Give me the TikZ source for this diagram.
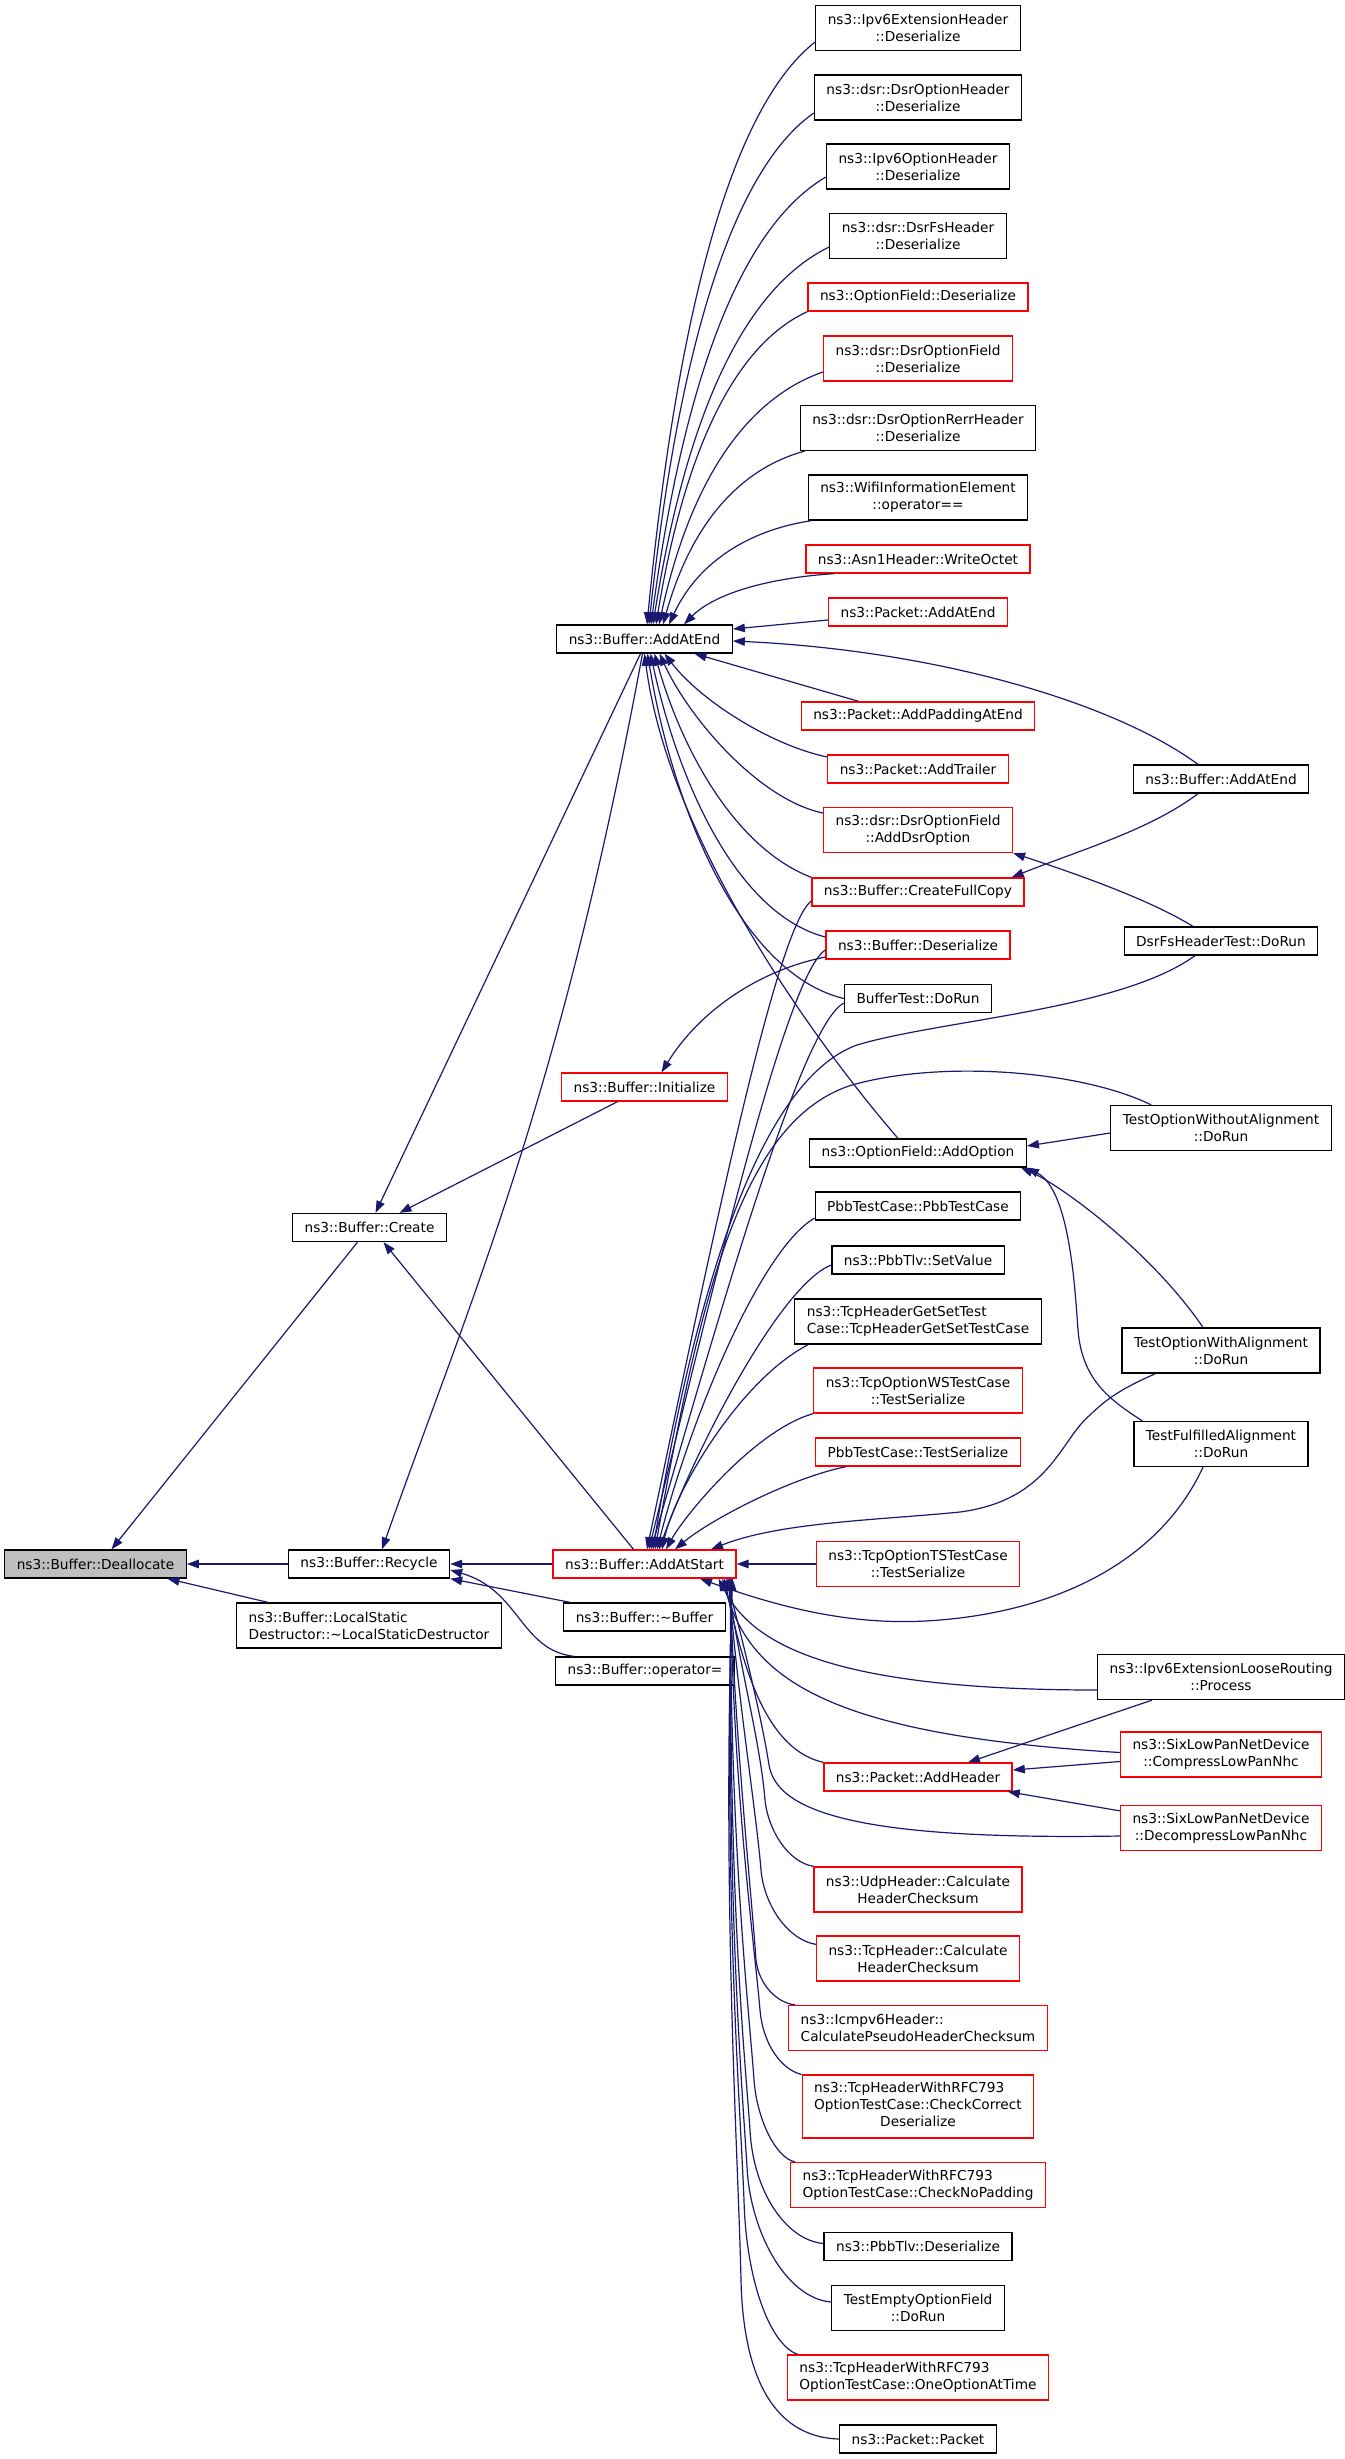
\documentclass[tikz,border=0pt]{standalone}
\usepackage{fontspec}
\setmainfont{DejaVu Sans}
\usetikzlibrary{arrows.meta}
\definecolor{edgeblue}{HTML}{191970}
\definecolor{nodegray}{HTML}{BFBFBF}

\begin{document}
\begin{tikzpicture}[x=1pt,y=-1pt,
		func/.style={draw=black,line width=1.3pt,fill=white,inner xsep=12pt,inner ysep=0pt,minimum height=28pt,align=center,font=\fontsize{13.7}{17}\selectfont},
		redfunc/.style={func,draw=red},
		tall/.style={minimum height=45pt},
		taller/.style={minimum height=63pt},
		call/.style={draw=edgeblue,line width=1.2pt,{Triangle[length=12pt,width=8.5pt]}-}]
	\useasboundingbox (0,0) rectangle (1344,2459);

	% left part
	\node[func,fill=nodegray] (dealloc) at (95.5,1564) {ns3::Buffer::Deallocate};
	\node[func] (create) at (369.5,1227.5) {ns3::Buffer::Create};
	\node[func] (recycle) at (369,1564) {ns3::Buffer::Recycle};
	\node[func,tall,align=left] (localstatic) at (369,1625.5) {ns3::Buffer::LocalStatic\\Destructor::\textasciitilde LocalStaticDestructor};
	\node[func] (addatendL) at (644.5,639) {ns3::Buffer::AddAtEnd};
	\node[redfunc] (initialize) at (644.5,1087) {ns3::Buffer::Initialize};
	\node[redfunc] (addatstart) at (644.5,1564) {ns3::Buffer::AddAtStart};
	\node[func] (dtor) at (644.5,1617) {ns3::Buffer::\textasciitilde Buffer};
	\node[func] (assign) at (645,1671) {ns3::Buffer::operator=};

	% callers, middle column
	\node[func,tall] (ipv6exthdr) at (918,28) {ns3::Ipv6ExtensionHeader\\::Deserialize};
	\node[func,tall] (dsropthdr) at (918,97.5) {ns3::dsr::DsrOptionHeader\\::Deserialize};
	\node[func,tall] (ipv6opthdr) at (918,166.5) {ns3::Ipv6OptionHeader\\::Deserialize};
	\node[func,tall] (dsrfshdr) at (918,236) {ns3::dsr::DsrFsHeader\\::Deserialize};
	\node[redfunc] (optfielddes) at (918,297) {ns3::OptionField::Deserialize};
	\node[redfunc,tall] (dsroptfielddes) at (918,358.5) {ns3::dsr::DsrOptionField\\::Deserialize};
	\node[func,tall] (dsrrerr) at (918,428) {ns3::dsr::DsrOptionRerrHeader\\::Deserialize};
	\node[func,tall] (wifiie) at (918,497.5) {ns3::WifiInformationElement\\::operator==};
	\node[redfunc] (asn1) at (918,559) {ns3::Asn1Header::WriteOctet};
	\node[redfunc] (pktaddatend) at (918,612) {ns3::Packet::AddAtEnd};
	\node[redfunc] (pktpadding) at (918,716) {ns3::Packet::AddPaddingAtEnd};
	\node[redfunc] (pkttrailer) at (918,769) {ns3::Packet::AddTrailer};
	\node[redfunc,tall] (adddsropt) at (918,830) {ns3::dsr::DsrOptionField\\::AddDsrOption};
	\node[redfunc] (fullcopy) at (918,892) {ns3::Buffer::CreateFullCopy};
	\node[redfunc] (bufdes) at (918,945) {ns3::Buffer::Deserialize};
	\node[func] (buftest) at (918,998.5) {BufferTest::DoRun};
	\node[func] (addoption) at (918,1153) {ns3::OptionField::AddOption};
	\node[func] (pbbctor) at (918,1206) {PbbTestCase::PbbTestCase};
	\node[func] (setvalue) at (918,1260) {ns3::PbbTlv::SetValue};
	\node[func,tall,align=left] (tcpgetset) at (918,1321.5) {ns3::TcpHeaderGetSetTest\\Case::TcpHeaderGetSetTestCase};
	\node[redfunc,tall] (tcpws) at (918,1390.5) {ns3::TcpOptionWSTestCase\\::TestSerialize};
	\node[redfunc] (pbbser) at (918,1452) {PbbTestCase::TestSerialize};
	\node[redfunc,tall] (tcpts) at (918,1564) {ns3::TcpOptionTSTestCase\\::TestSerialize};
	\node[redfunc] (addheader) at (918,1777) {ns3::Packet::AddHeader};
	\node[redfunc,tall] (udpcs) at (918,1889.5) {ns3::UdpHeader::Calculate\\HeaderChecksum};
	\node[redfunc,tall] (tcpcs) at (918,1958.5) {ns3::TcpHeader::Calculate\\HeaderChecksum};
	\node[redfunc,tall,align=left] (icmpcs) at (918,2028) {ns3::Icmpv6Header::\\CalculatePseudoHeaderChecksum};
	\node[redfunc,taller] (checkcorrect) at (918,2106.5) {\begin{tabular}{@{}l@{}}ns3::TcpHeaderWithRFC793\\OptionTestCase::CheckCorrect\\\multicolumn{1}{@{}c@{}}{Deserialize}\end{tabular}};
	\node[redfunc,tall,align=left] (checknopad) at (918,2185) {ns3::TcpHeaderWithRFC793\\OptionTestCase::CheckNoPadding};
	\node[func] (pbbtlvdes) at (918,2246.5) {ns3::PbbTlv::Deserialize};
	\node[func,tall] (testempty) at (918,2308) {TestEmptyOptionField\\::DoRun};
	\node[redfunc,tall,align=left] (oneoption) at (918,2377.5) {ns3::TcpHeaderWithRFC793\\OptionTestCase::OneOptionAtTime};
	\node[func] (pktctor) at (918,2439) {ns3::Packet::Packet};

	% callers, right column
	\node[func] (addatendR) at (1221,779) {ns3::Buffer::AddAtEnd};
	\node[func] (dsrfstest) at (1221,941) {DsrFsHeaderTest::DoRun};
	\node[func,tall] (towa) at (1221,1128) {TestOptionWithoutAlignment\\::DoRun};
	\node[func,tall] (twa) at (1221,1350.5) {TestOptionWithAlignment\\::DoRun};
	\node[func,tall] (tfa) at (1221,1444) {TestFulfilledAlignment\\::DoRun};
	\node[func,tall] (looserouting) at (1221,1677) {ns3::Ipv6ExtensionLooseRouting\\::Process};
	\node[redfunc,tall] (compress) at (1221,1754.5) {ns3::SixLowPanNetDevice\\::CompressLowPanNhc};
	\node[redfunc,tall] (decompress) at (1221,1828) {ns3::SixLowPanNetDevice\\::DecompressLowPanNhc};

	% Deallocate, Create, Recycle, Initialize
	\draw[call] ([xshift=16pt]dealloc.north) -- ([xshift=-12pt]create.south);
	\draw[call] (dealloc.east) -- (recycle.west);
	\draw[call] ([xshift=72pt]dealloc.south) -- ([xshift=-101pt]localstatic.north);
	\draw[call] ([xshift=6pt]create.north) -- ([xshift=-4pt]addatendL.south);
	\draw[call] ([xshift=30pt]create.north) -- ([xshift=-27pt]initialize.south);
	\draw[call] ([xshift=14pt]create.south) -- ([xshift=-11pt]addatstart.north);
	\draw[call] ([xshift=13pt]recycle.north) .. controls (470,1300) and (560,1100) .. ([xshift=-2pt]addatendL.south);
	\draw[call] (recycle.east) -- (addatstart.west);
	\draw[call] (recycle.south east) -- ([xshift=7pt]dtor.north west);
	\draw[call] ([yshift=-6pt]recycle.east) .. controls (520,1590) and (520,1650) .. ([xshift=19pt]assign.north west);
	\draw[call] ([xshift=17pt]initialize.north) .. controls (700,1010) and (760,970) .. ([yshift=-12pt]bufdes.west);

	% AddAtEnd
	\draw[call] ([xshift=2.5pt]addatendL.north) .. controls (681,275) and (741,100) .. ([yshift=-14pt]ipv6exthdr.west);
	\draw[call] ([xshift=4.5pt]addatendL.north) .. controls (682,318) and (741,164) .. ([yshift=-15.5pt]dsropthdr.west);
	\draw[call] ([xshift=6.5pt]addatendL.north) .. controls (687,356) and (749,222) .. ([yshift=-10.5pt]ipv6opthdr.west);
	\draw[call] ([xshift=8.5pt]addatendL.north) .. controls (689,398) and (751,285) .. ([yshift=-11pt]dsrfshdr.west);
	\draw[call] ([xshift=11.5pt]addatendL.north) .. controls (687,436) and (741,342) .. (optfielddes.south west);
	\draw[call] ([xshift=14.5pt]addatendL.north) .. controls (692,473) and (751,397) .. ([yshift=-13.5pt]dsroptfielddes.west);
	\draw[call] ([xshift=18.5pt]addatendL.north) .. controls (692,521) and (742,468) .. ([xshift=5pt]dsrrerr.south west);
	\draw[call] ([xshift=24.5pt]addatendL.north) .. controls (698,562) and (749,530) .. ([xshift=4pt]wifiie.south west);
	\draw[call] ([xshift=39.5pt]addatendL.north) .. controls (714,594) and (767,578) .. ([xshift=29pt]asn1.south west);
	\draw[call] ([yshift=10pt]addatendL.east) -- ([yshift=-8pt]pktaddatend.west);
	\draw[call] ([yshift=-2pt]addatendL.east) .. controls (930,650) and (1110,700) .. ([xshift=-23pt]addatendR.north);
	\draw[call] ([xshift=50pt]addatendL.south) -- ([xshift=58pt]pktpadding.north west);
	\draw[call] ([xshift=20pt]addatendL.south) .. controls (700,700) and (770,745) .. ([yshift=12pt]pkttrailer.west);
	\draw[call] ([xshift=15pt]addatendL.south) .. controls (690,720) and (760,800) .. ([yshift=17pt]adddsropt.west);
	\draw[call] ([xshift=10pt]addatendL.south) .. controls (685,760) and (740,850) .. (fullcopy.north west);
	\draw[call] ([xshift=6pt]addatendL.south) .. controls (680,790) and (740,915) .. ([yshift=8pt]bufdes.west);
	\draw[call] ([xshift=3pt]addatendL.south) .. controls (675,820) and (745,975) .. (buftest.west);
	\draw[call] (addatendL.south) .. controls (670,850) and (830,1060) .. ([xshift=-20pt]addoption.north);
	\draw[call] ([xshift=-13pt]fullcopy.north east) .. controls (1080,850) and (1150,830) .. ([xshift=-23pt]addatendR.south);
	\draw[call] (adddsropt.south east) .. controls (1080,875) and (1150,900) .. ([xshift=-28pt]dsrfstest.north);

	% AddAtStart, from above
	\draw[call] ([xshift=2.5pt]addatstart.north) .. controls (710,1250) and (776,927) .. ([yshift=-9pt]fullcopy.west);
	\draw[call] ([xshift=4.5pt]addatstart.north) .. controls (716,1274) and (787,974) .. ([yshift=-5pt]bufdes.west);
	\draw[call] ([xshift=6.5pt]addatstart.north) .. controls (724,1298) and (802,1025) .. ([yshift=-4.5pt]buftest.west);
	\draw[call] ([xshift=8.5pt]addatstart.north) .. controls (695,1290) and (760,1080) .. (857,1045) .. controls (940,1020) and (1120,1010) .. ([xshift=-26pt]dsrfstest.south);
	\draw[call] ([xshift=10.5pt]addatstart.north) .. controls (700,1300) and (740,1120) .. (852,1085) .. controls (940,1060) and (1080,1070) .. ([xshift=41pt]towa.north west);
	\draw[call] ([xshift=12.5pt]addatstart.north) .. controls (690,1420) and (760,1250) .. ([yshift=-12pt]pbbctor.west);
	\draw[call] ([xshift=14.5pt]addatstart.north) .. controls (695,1450) and (780,1285) .. ([yshift=-5pt]setvalue.west);
	\draw[call] ([xshift=17.5pt]addatstart.north) .. controls (675,1490) and (740,1380) .. ([xshift=14pt]tcpgetset.south west);
	\draw[call] ([xshift=21.5pt]addatstart.north) .. controls (685,1515) and (755,1430) .. (tcpws.south west);
	\draw[call] ([xshift=30.5pt]addatstart.north) .. controls (710,1520) and (790,1478) .. ([xshift=31pt]pbbser.south west);
	\draw[call] ([xshift=66.5pt]addatstart.north) .. controls (780,1522) and (880,1520) .. (960,1512) .. controls (1050,1500) and (1060,1440) .. (1090,1415) .. controls (1110,1395) and (1130,1385) .. ([xshift=34pt]twa.south west);
	\draw[call] (addatstart.east) -- (tcpts.west);

	% AddAtStart, from below
	\draw[call] ([xshift=55.5pt]addatstart.south) .. controls (800,1615) and (870,1626) .. (940,1620) .. controls (1060,1610) and (1160,1560) .. ([xshift=-18pt]tfa.south);
	\draw[call] ([xshift=74pt]addatstart.south) .. controls (750,1640) and (820,1690) .. ([yshift=-13pt]looserouting.west);
	\draw[call] ([xshift=78pt]addatstart.south) .. controls (750,1680) and (830,1735) .. ([yshift=2pt]compress.west);
	\draw[call] ([xshift=80pt]addatstart.south) .. controls (745,1680) and (770,1750) .. (addheader.north west);
	\draw[call] ([xshift=82pt]addatstart.south) .. controls (745,1650) and (762,1720) .. (769,1765) .. controls (777,1815) and (870,1840) .. ([yshift=-8pt]decompress.west);
	\draw[call] ([xshift=83pt]addatstart.south) .. controls (740,1670) and (760,1740) .. (765,1800) .. controls (768,1830) and (788,1862) .. (udpcs.north west);
	\draw[call] ([xshift=84pt]addatstart.south) .. controls (738,1700) and (756,1810) .. (761,1870) .. controls (764,1905) and (788,1940) .. ([yshift=-9pt]tcpcs.north west);
	\draw[call] ([xshift=85pt]addatstart.south) .. controls (736,1750) and (752,1900) .. (756,1960) .. controls (759,1985) and (777,2003) .. ([xshift=7pt]icmpcs.north west);
	\draw[call] ([xshift=85.5pt]addatstart.south) .. controls (734,1800) and (755,1950) .. (760,2010) .. controls (763,2045) and (782,2070) .. (checkcorrect.north west);
	\draw[call] ([xshift=86pt]addatstart.south) .. controls (730,1850) and (750,2020) .. (754,2080) .. controls (757,2120) and (776,2158) .. ([xshift=5pt]checknopad.north west);
	\draw[call] ([xshift=86.5pt]addatstart.south) .. controls (728,1900) and (746,2070) .. (750,2130) .. controls (753,2190) and (785,2240) .. ([yshift=3pt]pbbtlvdes.west);
	\draw[call] ([xshift=87pt]addatstart.south) .. controls (726,1900) and (743,2100) .. (747,2167) .. controls (750,2230) and (785,2298) .. ([yshift=6pt]testempty.west);
	\draw[call] ([xshift=87.5pt]addatstart.south) .. controls (724,1900) and (740,2100) .. (744,2200) .. controls (746,2280) and (770,2345) .. ([xshift=11pt]oneoption.north west);
	\draw[call] ([xshift=88pt]addatstart.south) .. controls (722,1900) and (738,2150) .. (741,2280) .. controls (743,2370) and (770,2437) .. (pktctor.west);

	% AddOption, AddHeader
	\draw[call] ([yshift=7pt]addoption.east) -- ([yshift=-5pt]towa.west);
	\draw[call] ([xshift=-6pt]addoption.south east) .. controls (1060,1185) and (1150,1250) .. ([xshift=-18pt]twa.north);
	\draw[call] (addoption.south east) .. controls (1070,1190) and (1075,1290) .. (1078,1330) .. controls (1082,1380) and (1110,1400) .. ([xshift=9pt]tfa.north west);
	\draw[call] ([xshift=50pt]addheader.north) -- ([xshift=-69pt]looserouting.south);
	\draw[call] ([yshift=7pt]addheader.east) -- ([yshift=-7pt]compress.west);
	\draw[call] ([xshift=-5pt]addheader.south east) -- ([yshift=-6pt]decompress.north west);
\end{tikzpicture}
\end{document}
